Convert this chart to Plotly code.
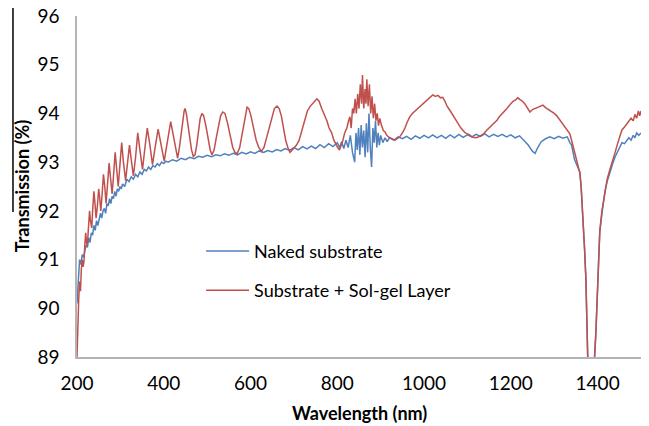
import plotly.graph_objects as go

# ---------------- data ----------------
naked_wl = [200, 202, 204, 206, 209, 212, 215, 218, 221, 224, 227, 230, 233, 236, 239, 242, 245, 248, 251, 254,
            257, 260, 263, 266, 269, 272, 275, 278, 281, 284, 287, 290, 293, 296, 299, 302, 305, 310, 315, 320,
            325, 330, 335, 340, 345, 350, 355, 360, 365, 370, 375, 380, 385, 390, 395, 400, 405, 410, 420, 430,
            440, 450, 460, 470, 480, 490, 500, 510, 520, 530, 540, 550, 560, 570, 580, 590, 600, 610, 620, 630,
            640, 650, 660, 670, 680, 690, 700, 710, 720, 730, 740, 750, 760, 770, 780, 790, 800, 805, 810, 815,
            820, 825, 830, 835, 840, 843, 846, 849, 852, 855, 858, 861, 864, 867, 870, 873, 876, 879, 882, 885,
            888, 891, 894, 897, 900, 905, 910, 915, 920, 930, 940, 950, 960, 970, 980, 990, 1000, 1010, 1020, 1030,
            1040, 1050, 1060, 1070, 1080, 1090, 1100, 1110, 1120, 1130, 1140, 1150, 1160, 1170, 1180, 1190, 1200,
            1210, 1220, 1230, 1240, 1250, 1256, 1262, 1270, 1280, 1290, 1300, 1310, 1320, 1330, 1336, 1340, 1347,
            1354, 1359, 1362, 1366, 1370, 1373, 1377, 1380, 1385, 1390, 1393, 1396, 1398, 1401, 1405, 1410, 1417,
            1422, 1428, 1434, 1440, 1445, 1450, 1456, 1462, 1467, 1472, 1477, 1482, 1486, 1490, 1495, 1500]
naked_t = [90.1, 90.5, 90.7, 91.0, 90.9, 91.1, 91.05, 91.2, 91.3, 91.25, 91.45, 91.35, 91.55, 91.5, 91.7, 91.6, 91.8, 91.7, 91.85, 91.95,
           91.85, 92.0, 92.05, 91.95, 92.15, 92.1, 92.25, 92.15, 92.3, 92.25, 92.4, 92.3, 92.45, 92.4, 92.5, 92.45, 92.55, 92.5, 92.65, 92.6,
           92.7, 92.65, 92.75, 92.7, 92.8, 92.75, 92.85, 92.82, 92.9, 92.85, 92.93, 92.9, 92.97, 92.93, 93.0, 92.97, 93.02, 93.0, 93.05, 93.02,
           93.08, 93.05, 93.1, 93.07, 93.12, 93.1, 93.14, 93.11, 93.15, 93.13, 93.17, 93.14, 93.18, 93.15, 93.2, 93.17, 93.21, 93.18, 93.23, 93.2,
           93.24, 93.21, 93.26, 93.23, 93.28, 93.24, 93.3, 93.25, 93.32, 93.27, 93.33, 93.28, 93.36, 93.3, 93.38, 93.32, 93.4, 93.3, 93.42, 93.28,
           93.45, 93.3, 93.55, 93.2, 93.0, 93.6, 93.25, 93.7, 93.15, 93.76, 93.3, 93.65, 93.1, 93.8, 93.2, 94.0, 93.3, 92.9, 93.7, 93.4,
           93.85, 93.3, 93.6, 93.35, 93.55, 93.4, 93.5, 93.42, 93.5, 93.45, 93.52, 93.48, 93.53, 93.47, 93.54, 93.49, 93.55, 93.5, 93.56, 93.5,
           93.55, 93.49, 93.56, 93.5, 93.57, 93.51, 93.56, 93.52, 93.57, 93.53, 93.58, 93.52, 93.57, 93.53, 93.57, 93.52, 93.56,
           93.5, 93.54, 93.45, 93.35, 93.22, 93.18, 93.3, 93.42, 93.48, 93.52, 93.48, 93.53, 93.49, 93.52, 93.4, 93.35, 93.05,
           92.9, 92.8, 92.5, 91.95, 91.2, 90.6, 89.0, 87.5, 86.0, 87.5, 89.0, 89.5, 89.9, 90.8, 91.55, 91.95, 92.4,
           92.6, 92.8, 92.95, 93.1, 93.2, 93.3, 93.4, 93.38, 93.45, 93.5, 93.45, 93.55, 93.5, 93.6, 93.55, 93.6]

sol_wl = [200, 202, 204, 206, 208, 210, 212, 214, 216, 218, 220, 222, 224, 226, 229, 231, 234, 236, 239, 241,
          244, 247, 250, 252, 255, 258, 261, 264, 267, 270, 274, 277, 281, 284, 288, 291, 295, 299, 303, 307,
          312, 316, 321, 325, 330, 335, 340, 345, 351, 356, 362, 368, 374, 380, 387, 394, 401, 408, 416, 424,
          432, 436, 440, 444, 447, 449, 452, 456, 460, 464, 468, 472, 476, 480, 484, 488, 492, 497, 502, 507,
          511, 516, 521, 526, 531, 536, 541, 547, 553, 559, 564, 569, 575, 580, 585, 589, 592, 596, 601, 607,
          613, 619, 625, 631, 637, 643, 649, 655, 661, 666, 671, 676, 681, 686, 691, 696, 701, 706, 712, 718,
          725, 731, 737, 744, 749, 753, 758, 764, 770, 776, 781, 787, 792, 797, 801, 805, 809, 813, 817, 822,
          826, 829, 832, 835, 838, 841, 844, 847, 850, 853, 856, 858, 861, 864, 866, 868, 871, 874, 877, 880,
          883, 886, 889, 892, 895, 898, 902, 906, 910, 914, 918, 923, 928, 933, 938, 944, 950, 956, 961, 967,
          973, 979, 985, 990, 996, 1002, 1008, 1014, 1020, 1026, 1032, 1038, 1043, 1048, 1053, 1059, 1065, 1070, 1075, 1080,
          1085, 1089, 1095, 1100, 1105, 1110, 1117, 1124, 1130, 1137, 1145, 1152, 1160, 1168, 1175, 1183, 1191, 1198, 1205, 1211,
          1216, 1222, 1227, 1232, 1238, 1244, 1250, 1255, 1260, 1267, 1274, 1280, 1287, 1294, 1300, 1306, 1313, 1320, 1325, 1329,
          1333, 1336, 1340, 1344, 1347, 1351, 1354, 1357, 1359, 1362, 1366, 1370, 1373, 1377, 1380, 1385, 1390, 1393, 1396, 1398,
          1401, 1405, 1410, 1417, 1422, 1428, 1434, 1440, 1445, 1450, 1456, 1462, 1467, 1472, 1477, 1482, 1486, 1490, 1494, 1497, 1500]
sol_t = [89.0, 89.8, 90.2, 90.55, 90.35, 90.8, 91.0, 90.85, 90.95, 91.3, 91.55, 91.35, 91.3, 91.6, 92.0, 91.8, 91.65, 92.0, 92.4, 92.2,
         91.85, 92.1, 92.45, 92.3, 92.0, 92.35, 92.75, 92.5, 92.15, 92.5, 92.98, 92.7, 92.35, 92.7, 93.2, 92.9, 92.5, 92.95, 93.4, 93.0,
         92.62, 92.95, 93.35, 93.05, 92.72, 93.1, 93.6, 93.25, 92.85, 93.25, 93.7, 93.35, 92.95, 93.3, 93.68, 93.35, 93.02, 93.4, 93.83, 93.45,
         93.08, 93.3, 93.6, 93.9, 94.05, 94.1, 94.0, 93.75, 93.45, 93.25, 93.12, 93.15, 93.35, 93.65, 93.9, 94.0, 93.95, 93.75, 93.45, 93.25,
         93.15, 93.25, 93.5, 93.75, 93.95, 94.03, 94.0, 93.8, 93.55, 93.3, 93.2, 93.17, 93.3, 93.55, 93.85, 94.05, 94.13, 94.1, 93.95, 93.7,
         93.45, 93.3, 93.22, 93.3, 93.5, 93.75, 93.95, 94.1, 94.15, 94.1, 93.95, 93.7, 93.45, 93.3, 93.2, 93.25, 93.3, 93.35, 93.45, 93.65,
         93.9, 94.05, 94.14, 94.2, 94.26, 94.3, 94.25, 94.1, 93.98, 93.85, 93.7, 93.6, 93.45, 93.35, 93.3, 93.25, 93.35, 93.45, 93.6, 93.7,
         93.85, 93.93, 93.7, 94.1, 94.0, 94.3, 94.0, 94.4, 94.1, 94.6, 94.2, 94.79, 94.1, 94.5, 94.2, 94.7, 94.15, 94.6, 94.0, 94.35,
         93.9, 94.2, 93.85, 94.0, 93.75, 93.9, 93.75, 93.65, 93.62, 93.55, 93.52, 93.5, 93.47, 93.45, 93.48, 93.52, 93.6, 93.7, 93.82, 93.93,
         94.0, 94.05, 94.1, 94.15, 94.2, 94.25, 94.3, 94.33, 94.38, 94.35, 94.37, 94.32, 94.33, 94.25, 94.15, 94.07, 93.98, 93.9, 93.82, 93.75,
         93.7, 93.66, 93.6, 93.58, 93.56, 93.52, 93.5, 93.51, 93.55, 93.58, 93.66, 93.72, 93.8, 93.86, 93.95, 94.02, 94.1, 94.18, 94.25, 94.28,
         94.32, 94.28, 94.25, 94.2, 94.1, 94.03, 94.08, 94.1, 94.13, 94.15, 94.17, 94.12, 94.08, 94.03, 94.0, 93.95, 93.86, 93.78, 93.7, 93.66,
         93.6, 93.58, 93.45, 93.3, 93.19, 93.05, 92.95, 92.85, 92.78, 92.5, 91.95, 91.2, 90.6, 89.0, 87.5, 86.0, 87.5, 89.0, 89.5, 89.9,
         90.8, 91.6, 92.0, 92.43, 92.65, 92.84, 93.0, 93.19, 93.35, 93.5, 93.66, 93.72, 93.78, 93.82, 93.9, 93.85, 93.98, 93.9, 94.05, 93.95, 94.05]

series_names = ["Naked substrate", "Substrate + Sol-gel Layer"]
x_ticks = [200, 400, 600, 800, 1000, 1200, 1400]
y_ticks = [89, 90, 91, 92, 93, 94, 95, 96]

FONT = "Lato, 'Open Sans', Arial, sans-serif"

fig = go.Figure()
fig.add_trace(go.Scatter(x=naked_wl, y=naked_t, mode="lines", name=series_names[0],
                         line=dict(color="#4F81BD", width=1.5), legend="legend"))
fig.add_trace(go.Scatter(x=sol_wl, y=sol_t, mode="lines", name=series_names[1],
                         line=dict(color="#C0504D", width=1.5), legend="legend2"))

fig.update_layout(
    width=649, height=426,
    margin=dict(l=77, r=8, t=16, b=69, autoexpand=False),
    paper_bgcolor="white", plot_bgcolor="white",
    font=dict(family=FONT, size=19, color="black"),
    legend=dict(x=0.22, y=0.31, xanchor="left", yanchor="middle", bgcolor="rgba(0,0,0,0)",
                itemwidth=43, font=dict(size=18, family=FONT)),
    legend2=dict(x=0.22, y=0.195, xanchor="left", yanchor="middle", bgcolor="rgba(0,0,0,0)",
                 itemwidth=43, font=dict(size=18, family=FONT)),
    xaxis=dict(range=[200, 1500], tickvals=x_ticks, showgrid=False, zeroline=False, automargin=False,
               showline=True, linecolor="#B4B4B4", linewidth=1.5, ticks="", ticklabeloverflow="allow",
               ticklabelstandoff=8, tickfont=dict(size=19, family=FONT)),
    yaxis=dict(range=[89, 96], tickvals=y_ticks, showgrid=False, zeroline=False, automargin=False,
               showline=True, linecolor="#B4B4B4", linewidth=1.5, ticks="", ticklabeloverflow="allow",
               ticklabelstandoff=12, tickfont=dict(size=19, family=FONT)),
    annotations=[
        dict(text="<b>Wavelength (nm)</b>", xref="paper", yref="paper", x=0.5, y=-0.165,
             xanchor="center", yanchor="middle", showarrow=False, font=dict(size=18, family=FONT)),
        dict(text="<b>Transmission (%)</b>", xref="paper", yref="paper", x=-0.098, y=0.5,
             xanchor="center", yanchor="middle", showarrow=False, textangle=-90,
             font=dict(size=18, family=FONT)),
    ],
    shapes=[dict(type="line", xref="paper", yref="paper", x0=-0.1135, x1=-0.1135, y0=1.0235, y1=0.425,
                 line=dict(color="black", width=1.5))],
    showlegend=True,
)

# remove the browser's default 8px body margin so the figure fills the window exactly
fig.write_html("out.html", config={"displayModeBar": False},
               post_script="document.body.style.margin='0';")
